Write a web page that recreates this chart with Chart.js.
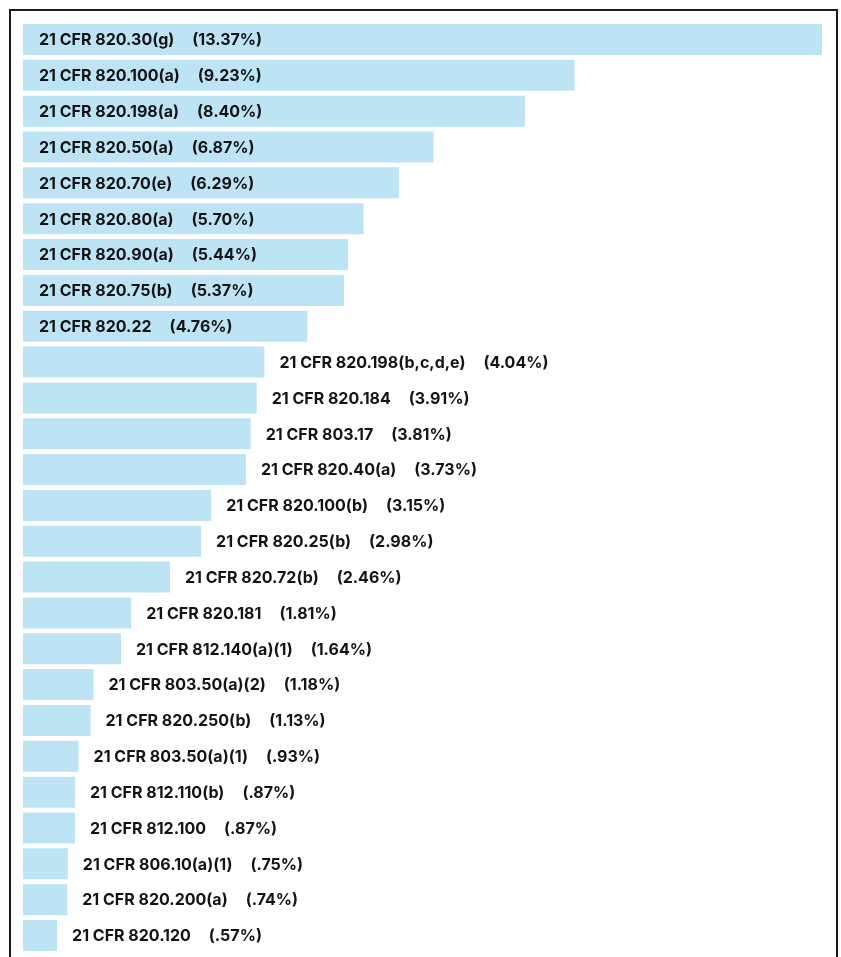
<!DOCTYPE html>
<html><head><meta charset="utf-8">
<script src="https://cdn.jsdelivr.net/npm/chart.js@4/dist/chart.umd.min.js"></script>
<style>
html,body{margin:0;padding:0;background:#fff;width:841px;height:957px;overflow:hidden;}
#frame{position:absolute;left:9px;top:9px;width:825px;height:960px;border:2px solid #1a1a1a;border-bottom:none;}
#c{position:absolute;left:0;top:0;}
</style></head>
<body>
<div id="frame"></div>
<canvas id="c" width="841" height="957"></canvas>
<script>
const categories = ["21 CFR 820.30(g)","21 CFR 820.100(a)","21 CFR 820.198(a)","21 CFR 820.50(a)","21 CFR 820.70(e)","21 CFR 820.80(a)","21 CFR 820.90(a)","21 CFR 820.75(b)","21 CFR 820.22","21 CFR 820.198(b,c,d,e)","21 CFR 820.184","21 CFR 803.17","21 CFR 820.40(a)","21 CFR 820.100(b)","21 CFR 820.25(b)","21 CFR 820.72(b)","21 CFR 820.181","21 CFR 812.140(a)(1)","21 CFR 803.50(a)(2)","21 CFR 820.250(b)","21 CFR 803.50(a)(1)","21 CFR 812.110(b)","21 CFR 812.100","21 CFR 806.10(a)(1)","21 CFR 820.200(a)","21 CFR 820.120"];
const values = [13.37,9.23,8.40,6.87,6.29,5.70,5.44,5.37,4.76,4.04,3.91,3.81,3.73,3.15,2.98,2.46,1.81,1.64,1.18,1.13,0.93,0.87,0.87,0.75,0.74,0.57];
const pctLabels = ["(13.37%)","(9.23%)","(8.40%)","(6.87%)","(6.29%)","(5.70%)","(5.44%)","(5.37%)","(4.76%)","(4.04%)","(3.91%)","(3.81%)","(3.73%)","(3.15%)","(2.98%)","(2.46%)","(1.81%)","(1.64%)","(1.18%)","(1.13%)","(.93%)","(.87%)","(.87%)","(.75%)","(.74%)","(.57%)"];
const insideCount = 9;

const labelPlugin = {
  id:'barLabels',
  afterDatasetsDraw(chart){
    const ctx = chart.ctx;
    const meta = chart.getDatasetMeta(0);
    ctx.save();
    ctx.font = 'bold 16px Inter, "Noto Sans", sans-serif';
    ctx.fillStyle = '#141414';
    ctx.textBaseline = 'middle';
    ctx.textAlign = 'left';
    meta.data.forEach((bar,i)=>{
      const lab = categories[i];
      const pct = pctLabels[i];
      let x = i < insideCount ? chart.chartArea.left + 16 : bar.x + 15;
      const y = bar.y + 1;
      ctx.fillText(lab, x, y);
      const w = ctx.measureText(lab).width;
      ctx.fillText(pct, x + w + 18, y);
    });
    ctx.restore();
  }
};

new Chart(document.getElementById('c'), {
  type:'bar',
  data:{labels:categories, datasets:[{data:values, backgroundColor:'#bde4f5', borderWidth:0, barPercentage:0.865, categoryPercentage:1}]},
  options:{
    indexAxis:'y', responsive:false, animation:false,
    layout:{padding:{left:23,right:19,top:21.6,bottom:3.6}},
    plugins:{legend:{display:false}, tooltip:{enabled:false}},
    scales:{
      x:{display:false,min:0,max:13.37},
      y:{display:false}
    }
  },
  plugins:[labelPlugin]
});
</script>
</body></html>
